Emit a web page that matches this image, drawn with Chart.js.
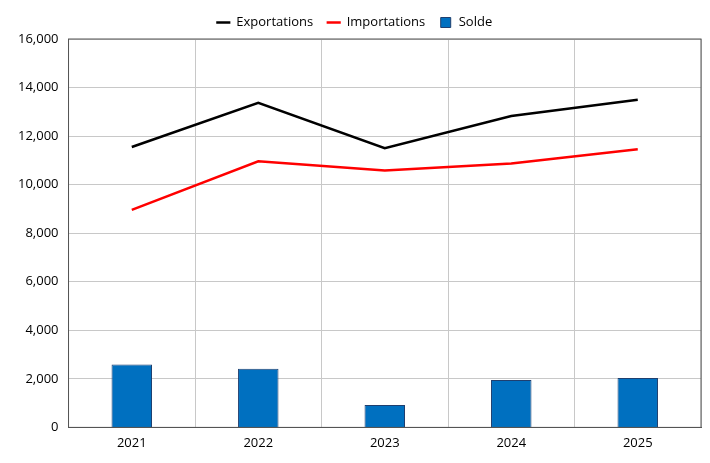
<!DOCTYPE html>
<html><head><meta charset="utf-8">
<script src="https://cdn.jsdelivr.net/npm/chart.js@4"></script>
<style>html,body{margin:0;padding:0;background:#fff}#w{width:710px;height:463px}</style>
</head><body><div id="w"><canvas id="c"></canvas></div>
<script>
const years = ['2021','2022','2023','2024','2025'];
const solde = [2590, 2415, 920, 1955, 2040];
const exportations = [11550, 13375, 11500, 12830, 13500];
const importations = [8960, 10960, 10580, 10875, 11460];
const yTicks = [0,2000,4000,6000,8000,10000,12000,14000,16000];
Chart.defaults.font.family = "'Open Sans', sans-serif";
Chart.defaults.font.size = 13;
Chart.defaults.color = '#000';
new Chart(document.getElementById('c'), {
  data: {
    labels: years,
    datasets: [
      {type:'bar', label:'Solde', data: solde, backgroundColor:'#0070C0', borderColor:'#1f3f6f', borderWidth:1, barPercentage:0.32, categoryPercentage:1, order:3, pointStyle:'rect'},
      {type:'line', label:'Exportations', data: exportations, borderColor:'#000', backgroundColor:'#000', borderWidth:2.5, pointRadius:0, tension:0, order:1, pointStyle:'line'},
      {type:'line', label:'Importations', data: importations, borderColor:'#FF0000', backgroundColor:'#FF0000', borderWidth:2.5, pointRadius:0, tension:0, order:2, pointStyle:'line'}
    ]
  },
  options: {
    responsive:true, maintainAspectRatio:false, animation:false,
    layout:{padding:{left:8,right:9,top:2,bottom:4}},
    plugins:{
      legend:{position:'top', labels:{usePointStyle:true, boxWidth:22, boxHeight:10, padding:14, font:{size:13}}},
      tooltip:{enabled:false}
    },
    scales:{
      x:{grid:{color:'#c8c8c8', offset:true, drawTicks:false}, border:{color:'#555'}, ticks:{padding:8}},
      y:{min:0,max:16000, afterBuildTicks:(s)=>{s.ticks=yTicks.map(v=>({value:v}));}, grid:{color:'#c8c8c8', drawTicks:false}, border:{color:'#555'}, ticks:{padding:10}}
    }
  },
  plugins:[{id:'frame', afterDraw(ch){const a=ch.chartArea,c=ch.ctx;c.save();c.strokeStyle='#555';c.lineWidth=1;c.strokeRect(a.left,a.top,a.right-a.left,a.bottom-a.top);c.restore();}}]
});
</script></body></html>
